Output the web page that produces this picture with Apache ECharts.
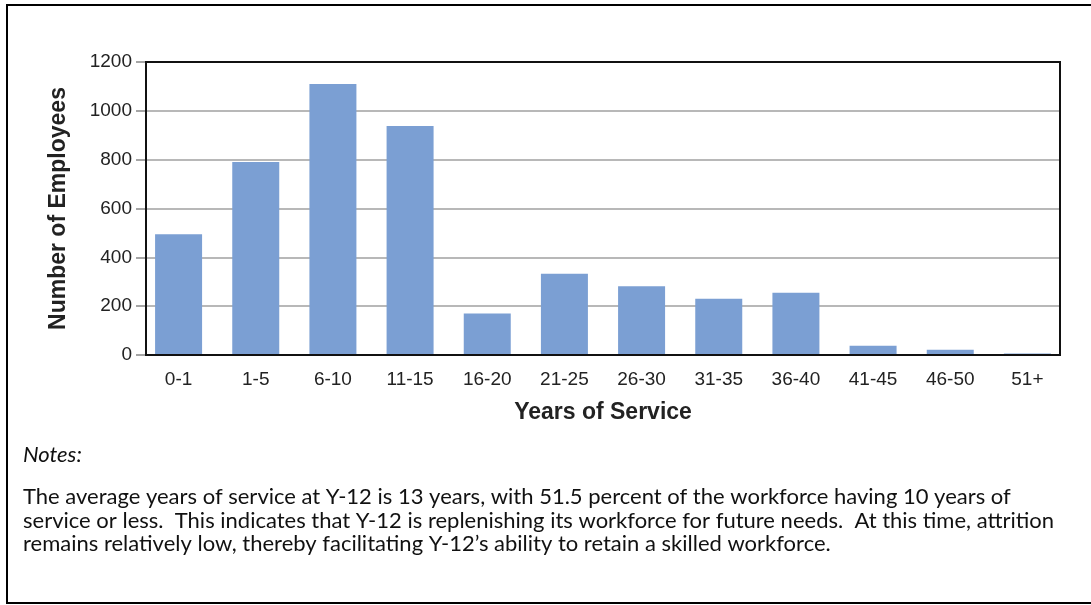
<!DOCTYPE html>
<html>
<head>
<meta charset="utf-8">
<script src="https://cdn.jsdelivr.net/npm/echarts@6/dist/echarts.min.js"></script>
<style>
html,body{margin:0;padding:0;background:#fff;}
#c{width:1091px;height:605px;}
</style>
</head>
<body>
<div id="c"></div>
<script>
const categories = ['0-1','1-5','6-10','11-15','16-20','21-25','26-30','31-35','36-40','41-45','46-50','51+'];
const employees = [495, 790, 1110, 938, 170, 333, 282, 230, 255, 38, 22, 6];
const yTicks = [0, 200, 400, 600, 800, 1000, 1200];
const xTitle = 'Years of Service';
const yTitle = 'Number of Employees';
const notesTitle = 'Notes:';
const notesLines = [
  'The average years of service at Y-12 is 13 years, with 51.5 percent of the workforce having 10 years of',
  'service or less.  This indicates that Y-12 is replenishing its workforce for future needs.  At this time, attrition',
  'remains relatively low, thereby facilitating Y-12\u2019s ability to retain a skilled workforce.'
];

const chart = echarts.init(document.getElementById('c'), null, {renderer:'canvas'});
const axisFont = '"Liberation Sans", Arial, sans-serif';
const noteFamily = 'Lato, sans-serif';

// fit notes font so the first line spans the same width as the reference text
const cv = document.createElement('canvas').getContext('2d');
cv.font = '20px ' + noteFamily;
const w20 = cv.measureText(notesLines[0]).width;
const noteSize = Math.round(20 * 989 / w20 * 10) / 10;

const graphics = [
  {type:'rect', shape:{x:7, y:5, width:1090, height:598}, style:{fill:'none', stroke:'#000', lineWidth:2}, silent:true, z:-1},
  {type:'rect', shape:{x:146, y:62, width:914, height:293}, style:{fill:'none', stroke:'#111', lineWidth:2}, silent:true, z:10},
  {type:'text', x:23, y:455, style:{text:notesTitle, font:'italic ' + noteSize + 'px ' + noteFamily, fill:'#111', textVerticalAlign:'middle'}}
];
notesLines.forEach((t,i)=>{
  graphics.push({type:'text', x:23, y:497 + i*23.5, style:{text:t, font:noteSize + 'px ' + noteFamily, fill:'#111', textVerticalAlign:'middle'}});
});

const yMin = yTicks[0], yMax = yTicks[yTicks.length-1];

chart.setOption({
  animation:false,
  grid:[
    {left:146, top:62, width:914, height:293, containLabel:false},
    {left:140, top:62, width:926, height:293, containLabel:false}
  ],
  xAxis:[
    {gridIndex:0, type:'value', show:false, min:0, max:1},
    {
      gridIndex:1, type:'category', data:categories,
      axisLine:{show:false}, axisTick:{show:false}, splitLine:{show:false},
      axisLabel:{color:'#222', fontSize:19, fontFamily:axisFont, margin:15},
      name:xTitle, nameLocation:'middle', nameGap:46,
      nameTextStyle:{fontSize:23, fontWeight:'bold', color:'#222', fontFamily:axisFont}
    }
  ],
  yAxis:[
    {
      gridIndex:0, type:'value', min:yMin, max:yMax, interval:200,
      axisLine:{show:false},
      axisTick:{show:true, length:10, lineStyle:{color:'#888', width:1.5}},
      axisLabel:{color:'#222', fontSize:19, fontFamily:axisFont, margin:14, formatter:(v)=>String(v)},
      splitLine:{show:true, lineStyle:{color:'#a0a0a0', width:1.5}},
      name:yTitle, nameLocation:'middle', nameGap:76,
      nameTextStyle:{fontSize:23, fontWeight:'bold', color:'#222', fontFamily:axisFont}
    },
    {gridIndex:1, type:'value', min:yMin, max:yMax, show:false, splitLine:{show:false}}
  ],
  series:[{
    type:'bar', xAxisIndex:1, yAxisIndex:1, data:employees, barWidth:47,
    itemStyle:{color:'#7b9fd3'}
  }],
  graphic:graphics
});
</script>
</body>
</html>
